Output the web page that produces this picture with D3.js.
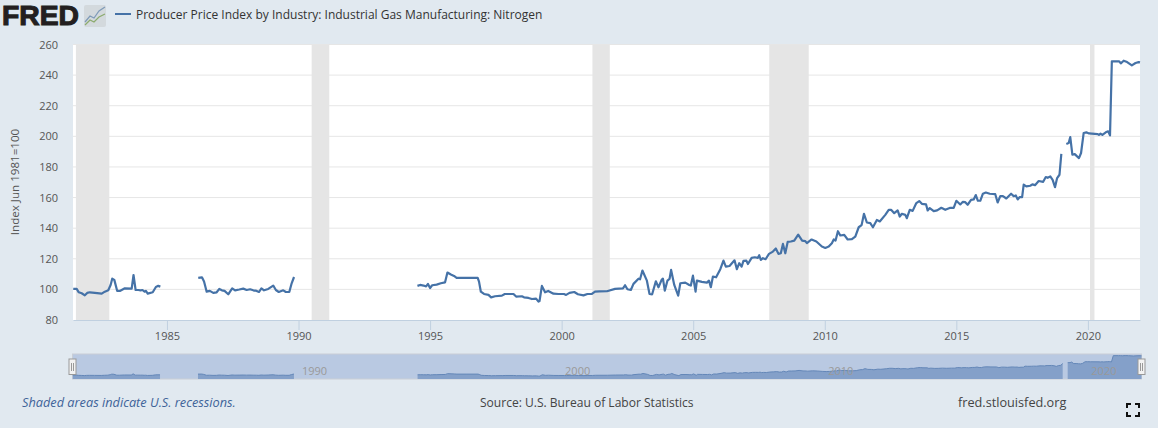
<!DOCTYPE html>
<html>
<head>
<meta charset="utf-8">
<script src="https://cdn.jsdelivr.net/npm/d3@7"></script>
<style>
  html, body { margin: 0; padding: 0; background: #e1e9f0; overflow: hidden; }
  svg { display: block; font-family: "Open Sans", sans-serif; }
</style>
</head>
<body>
<svg></svg>
<script>
let w = 1158
let h = 428

// values, null = gap in the series
let dates = [
  1981.44,1981.57,1981.65,1981.76,1981.88,1981.97,1982.07,1982.26,1982.52,1982.64,1982.77,1982.86,1982.92,1983.0,1983.11,
  1983.21,1983.4,1983.66,1983.73,1983.81,1983.91,1984.0,1984.07,1984.15,1984.2,1984.27,1984.46,1984.58,1984.67,1984.75,
  1985.5,
  1986.19,1986.33,1986.41,1986.51,1986.63,1986.76,1986.89,1986.99,1987.09,1987.19,1987.33,1987.48,1987.59,1987.75,1987.9,
  1988.03,1988.16,1988.28,1988.41,1988.5,1988.59,1988.69,1988.85,1989.04,1989.14,1989.25,1989.42,1989.52,1989.65,1989.74,1989.83,
  1992,
  1994.52,1994.62,1994.75,1994.85,1994.92,1995.0,1995.08,1995.25,1995.41,1995.57,1995.66,1995.79,1995.91,1996.01,1996.39,1996.81,
  1996.86,1996.93,1997.05,1997.22,1997.32,1997.47,1997.73,1997.84,1998.17,1998.27,1998.49,1998.57,1998.74,1998.87,1999.03,1999.12,
  1999.16,1999.25,1999.37,1999.49,1999.69,1999.88,2000.09,2000.17,2000.3,2000.48,2000.62,2000.83,2000.98,2001.15,2001.27,2001.44,
  2001.72,2002.03,2002.33,2002.41,2002.5,2002.63,2002.73,2002.92,2002.98,2003.07,2003.24,2003.34,2003.44,2003.58,2003.68,2003.8,
  2003.85,2003.92,2004.02,2004.1,2004.16,2004.28,2004.43,2004.51,2004.7,2004.85,2004.91,2004.99,2005.09,2005.14,2005.33,2005.52,
  2005.6,2005.67,2005.75,2005.87,2006.03,2006.15,2006.24,2006.38,2006.57,2006.66,2006.75,2006.84,2006.91,2007.02,2007.08,2007.22,
  2007.34,2007.46,2007.51,2007.57,2007.65,2007.75,2007.88,2008.03,2008.14,2008.24,
  2008.33,2008.41,2008.5,2008.59,2008.71,2008.84,2008.99,2009.14,2009.26,2009.32,2009.5,2009.68,2009.89,2010.02,2010.15,2010.27,
  2010.34,2010.41,2010.5,2010.59,2010.74,2010.87,2011.03,2011.16,2011.29,2011.4,2011.49,2011.6,2011.73,2011.83,2011.98,2012.09,
  2012.3,2012.43,2012.52,2012.64,2012.77,2012.85,2012.93,2013.06,2013.12,2013.23,2013.34,2013.48,2013.59,2013.69,2013.85,2013.91,
  2013.99,2014.14,2014.27,2014.43,2014.58,2014.77,2014.9,2015.0,2015.15,
  2015.25,2015.34,2015.43,2015.56,2015.66,2015.74,2015.82,2015.91,2016.01,2016.12,2016.27,2016.48,2016.57,2016.67,2016.77,2016.9,
  2017.08,2017.18,2017.26,2017.33,2017.41,2017.5,2017.56,2017.66,2017.81,2017.89,2017.99,2018.13,2018.3,2018.4,2018.47,2018.57,
  2018.66,2018.75,2018.83,2018.92,2018.99,
  2019.1,
  2019.18,2019.27,2019.33,2019.41,2019.5,2019.59,2019.66,2019.74,2019.84,2019.94,2020.04,2020.37,2020.42,2020.48,2020.55,2020.68,
  2020.77,2020.84,2020.91,2021.11,2021.19,2021.25,2021.36,2021.49,2021.67,2021.81,2021.93,2021.98
]
let values = [
  100.3,100.3,98.1,97.5,96.1,97.7,98.1,97.7,97.2,98.5,99.4,102.9,107,106.2,99,
  99,100.7,100.5,109.4,99.6,99.6,99.4,99.6,98.5,99,97.2,98.1,101.6,102.3,101.8,
  null,
  107.5,107.9,105.1,98.5,99,97.7,98.1,100.3,99.4,99,96.8,100.7,99.4,99.9,100.5,
  99.6,100.1,99.4,99,98.3,100.7,99.4,100.3,102.5,99.6,98.3,99.4,98.3,98.3,104,108.1,
  null,
  102.3,102.9,102.5,102,103.6,100.9,102.7,103.1,104,104.6,111,109.7,108.8,107.5,107.5,107.5,
  105.1,98.5,97,96.4,94.8,95.5,95.9,97,97,95.3,95.5,94.8,94.4,93.7,94,92,
  92.4,102.3,98.1,99,97.2,97,97,96.4,97.7,98.3,96.8,96.1,97,97,98.5,98.7,
  98.8,100.3,100.7,102.7,100.1,99.6,103.6,107,106.6,112.3,105.7,97,96.8,105.3,101.4,106.2,
  107,99.2,105.7,106.8,112.7,102.9,95.9,104,104.4,102.9,102.5,109,98.5,105.7,104.9,104.4,
  105.7,101.4,108.4,107.9,113.2,118.8,114.9,115.3,119,113.2,117.1,114.9,118.6,118.8,116.6,120.6,
  121,120.6,122.3,119.3,120.4,119.7,123.2,124.7,126.7,123.2,
  123.6,129.7,123.6,131,131.3,131.9,135.8,131.9,131.5,130.2,132.6,131.3,128,127.1,128,130.2,
  132.6,131.9,138,135.2,135.6,132.6,132.8,134.5,140.6,142,149.4,143.7,143.3,140.6,145.4,144.4,
  148.7,152,152,149.8,151.6,147.6,149.4,148.7,146.5,152,151.3,156.4,157.7,155.9,155.5,151.6,
  153.1,151.1,151.6,153.3,152,153.3,153.3,157.9,155.5,
  157.2,157,155.3,158.5,158.8,161.6,157.9,157.9,162.5,163.3,162.5,162.2,156.8,160.9,160.9,159.4,
  162.5,160.9,161.4,158.8,160.3,160.3,168.4,167.3,167.7,168.6,168.1,170.8,170.3,173.4,172.9,173.8,
  171.6,166.8,172.7,174.9,188.6,
  null,
  195,195.6,199.5,188,188.4,186.9,185.8,189.1,202.2,202.6,201.9,201.5,200.9,201.7,200.9,202.6,
  203.3,200.6,249,249,249,247.7,249.4,248.5,246.4,247.9,248.5,248.3
]

let recessionStarts = [1981.54, 1990.5, 2001.17, 2007.89, 2020.08]
let recessionEnds = [1982.81, 1991.17, 2001.83, 2009.39, 2020.25]

let yTicks = [80, 100, 120, 140, 160, 180, 200, 220, 240, 260]
let xTicks = [1985, 1990, 1995, 2000, 2005, 2010, 2015, 2020]
let navTicks = [1990, 2000, 2010, 2020]

let titleText = 'Producer Price Index by Industry: Industrial Gas Manufacturing: Nitrogen'

let svg = d3.select('svg').attr('width', w).attr('height', h)

let xScale = d3.scaleLinear().domain([1981.43, 2021.98]).range([73, 1140])
let yScale = d3.scaleLinear().domain([80, 260]).range([320, 44.5])
let navX = d3.scaleLinear().domain([1981.43, 2021.98]).range([72.5, 1141.5])
let navY = d3.scaleLinear().domain([70, 250]).range([379, 355.5])

let lineColor = '#4572a7'

let drawHeader = () => {
  svg.append('text')
     .attr('x', 2).attr('y', 25)
     .attr('font-family', '"Liberation Sans", sans-serif')
     .attr('font-weight', 700)
     .attr('font-size', 28)
     .attr('stroke', '#231f20').attr('stroke-width', 1.1)
     .attr('textLength', 77)
     .attr('lengthAdjust', 'spacingAndGlyphs')
     .attr('fill', '#231f20')
     .text('FRED')

  // little chart icon next to the logo
  let icon = svg.append('g').attr('transform', 'translate(84,5)')
  icon.append('rect').attr('width', 22).attr('height', 22).attr('rx', 2).attr('fill', '#d3d9dd')
  icon.append('path').attr('d', 'M1 17 L6 11 L10 13 L15 6 L21 2').attr('fill', 'none').attr('stroke', '#7e9ab8').attr('stroke-width', 1.2)
  icon.append('path').attr('d', 'M1 20 L6 15 L10 17 L15 12 L21 9').attr('fill', 'none').attr('stroke', '#8cab6e').attr('stroke-width', 1.2)

  svg.append('line')
     .attr('x1', 115).attr('x2', 131).attr('y1', 14).attr('y2', 14)
     .attr('stroke', lineColor).attr('stroke-width', 2)
  svg.append('text')
     .attr('x', 136).attr('y', 19)
     .attr('font-size', 12).attr('fill', '#333')
     .text(titleText)
}

let drawPlot = () => {
  svg.append('rect')
     .attr('x', xScale.range()[0]).attr('y', yScale(260))
     .attr('width', xScale.range()[1] - xScale.range()[0])
     .attr('height', yScale(80) - yScale(260))
     .attr('fill', '#fff')

  svg.append('g').selectAll('line')
     .data(yTicks.slice(1))
     .enter().append('line')
     .attr('x1', xScale.range()[0]).attr('x2', xScale.range()[1])
     .attr('y1', (d) => yScale(d)).attr('y2', (d) => yScale(d))
     .attr('stroke', '#e6e6e6')

  svg.append('g').selectAll('rect')
     .data(recessionStarts)
     .enter().append('rect')
     .attr('x', (d) => xScale(d))
     .attr('y', yScale(260))
     .attr('width', (d, i) => xScale(recessionEnds[i]) - xScale(d))
     .attr('height', yScale(80) - yScale(260))
     .attr('fill', '#e5e5e5')

  let line = d3.line()
               .defined((d) => d != null)
               .x((d, i) => xScale(dates[i]))
               .y((d) => yScale(d))
  svg.append('path')
     .datum(values)
     .attr('d', line)
     .attr('fill', 'none')
     .attr('stroke', lineColor)
     .attr('stroke-width', 2.2)
     .attr('stroke-linejoin', 'round')
}

let drawAxis = () => {
  let xAxis = d3.axisBottom(xScale).tickValues(xTicks).tickFormat(d3.format('d')).tickSize(10).tickSizeOuter(0).tickPadding(2)
  let gx = svg.append('g').attr('transform', 'translate(0,320)').call(xAxis)
  gx.select('.domain').attr('stroke', '#c0d0e0')
  gx.selectAll('.tick line').attr('stroke', '#c0d0e0')
  gx.selectAll('text').attr('font-size', 11).attr('font-family', '"Open Sans", sans-serif').attr('fill', '#555')

  let yAxis = d3.axisLeft(yScale).tickValues(yTicks).tickSize(0).tickPadding(15)
  let gy = svg.append('g').attr('transform', 'translate(73,0)').call(yAxis)
  gy.select('.domain').remove()
  gy.selectAll('text').attr('font-size', 11).attr('font-family', '"Open Sans", sans-serif').attr('fill', '#555')

  svg.append('text')
     .attr('transform', 'translate(19,182) rotate(-90)')
     .attr('text-anchor', 'middle')
     .attr('font-size', 11.6).attr('fill', '#555')
     .text('Index Jun 1981=100')
}

let drawNavigator = () => {
  svg.append('rect')
     .attr('x', 72.5).attr('y', 354).attr('width', 1069).attr('height', 25)
     .attr('fill', '#b9c9e2').attr('stroke', '#c9ced6')

  let area = d3.area()
               .defined((d) => d != null)
               .x((d, i) => navX(dates[i]))
               .y0(navY(70))
               .y1((d) => navY(d))
  svg.append('path')
     .datum(values)
     .attr('d', area)
     .attr('fill', '#84a0c9')

  let topLine = d3.line()
                  .defined((d) => d != null)
                  .x((d, i) => navX(dates[i]))
                  .y((d) => navY(d))
  svg.append('path')
     .datum(values)
     .attr('d', topLine)
     .attr('fill', 'none')
     .attr('stroke', '#6487b8')
     .attr('stroke-width', 1)

  svg.append('g').selectAll('text')
     .data(navTicks)
     .enter().append('text')
     .attr('x', (d) => xScale(d) + 16)
     .attr('y', 375)
     .attr('text-anchor', 'middle')
     .attr('font-size', 11).attr('fill', '#999')
     .text((d) => d)

  let handles = svg.append('g').selectAll('g')
     .data(navX.range())
     .enter().append('g')
     .attr('transform', (d) => 'translate(' + d + ',359)')
  handles.append('rect')
     .attr('x', -3.5).attr('width', 7).attr('height', 15.5)
     .attr('fill', '#f2f2f2').attr('stroke', '#999')
  handles.append('path')
     .attr('d', 'M-1 4 V12 M1 4 V12')
     .attr('stroke', '#999').attr('fill', 'none')
}

let drawFooter = () => {
  svg.append('text')
     .attr('x', 22).attr('y', 407)
     .attr('font-size', 12.75).attr('font-style', 'italic').attr('fill', '#3e6399')
     .text('Shaded areas indicate U.S. recessions.')
  svg.append('text')
     .attr('x', 480).attr('y', 407)
     .attr('font-size', 12.05).attr('fill', '#444')
     .text('Source: U.S. Bureau of Labor Statistics')
  svg.append('text')
     .attr('x', 958).attr('y', 407)
     .attr('font-size', 12.7).attr('fill', '#444')
     .text('fred.stlouisfed.org')

  // fullscreen icon
  svg.append('path')
     .attr('d', 'M1127 408 V404 H1131 M1135 404 H1139 V408 M1139 412 V416 H1135 M1131 416 H1127 V412')
     .attr('fill', 'none').attr('stroke', '#111').attr('stroke-width', 2)
}

drawHeader()
drawPlot()
drawAxis()
drawNavigator()
drawFooter()
</script>
</body>
</html>
